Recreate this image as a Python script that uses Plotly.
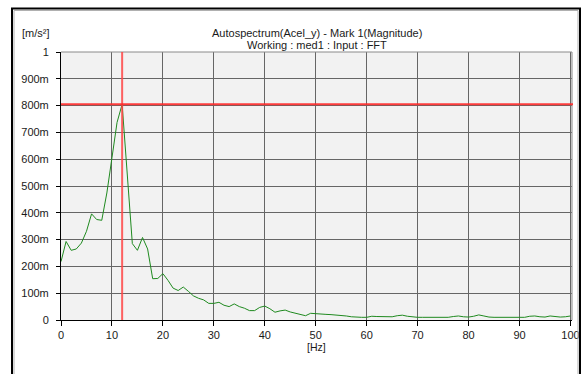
import plotly.graph_objects as go

freq_hz = list(range(0, 101))
magnitude = [
    0.218, 0.293, 0.260, 0.265, 0.287, 0.331, 0.396, 0.375, 0.372, 0.474,
    0.605, 0.737, 0.805, 0.545, 0.285, 0.260, 0.308, 0.265, 0.154, 0.155,
    0.173, 0.148, 0.119, 0.110, 0.123, 0.107, 0.090, 0.081, 0.075, 0.062,
    0.062, 0.066, 0.055, 0.050, 0.060, 0.050, 0.044, 0.035, 0.035, 0.047,
    0.052, 0.042, 0.029, 0.034, 0.037, 0.030, 0.025, 0.022, 0.016, 0.025,
    0.023, 0.021, 0.021, 0.020, 0.019, 0.017, 0.015, 0.012, 0.010, 0.010,
    0.010, 0.014, 0.013, 0.012, 0.011, 0.012, 0.016, 0.018, 0.014, 0.011,
    0.010, 0.010, 0.010, 0.010, 0.010, 0.010, 0.010, 0.013, 0.015, 0.012,
    0.011, 0.014, 0.019, 0.015, 0.011, 0.010, 0.010, 0.010, 0.010, 0.010,
    0.010, 0.010, 0.014, 0.015, 0.012, 0.011, 0.015, 0.013, 0.011, 0.012,
    0.015,
]
cursor_x = 12
cursor_y = 0.805

x_ticks = list(range(0, 101, 10))
y_ticks = [0, 0.1, 0.2, 0.3, 0.4, 0.5, 0.6, 0.7, 0.8, 0.9, 1.0]
y_tick_labels = ["0", "100m", "200m", "300m", "400m", "500m", "600m", "700m", "800m", "900m", "1"]

title_line1 = "Autospectrum(Acel_y) - Mark 1(Magnitude)"
title_line2 = "Working : med1 : Input : FFT"
y_unit = "[m/s²]"
x_unit = "[Hz]"

FONT = "Liberation Sans, Arial, sans-serif"

fig = go.Figure()
fig.add_trace(go.Scatter(
    x=freq_hz, y=magnitude, mode="lines",
    line=dict(color="#1f8a1f", width=1),
    hoverinfo="skip", showlegend=False,
))

fig.update_layout(
    template="none",
    width=582, height=374,
    margin=dict(l=61, r=10, t=52, b=54, autoexpand=False),
    paper_bgcolor="white",
    plot_bgcolor="#f2f2f2",
    font=dict(family=FONT, size=11, color="#1a1a1a"),
    showlegend=False,
)

fig.update_xaxes(
    range=[0, 100.3], tickvals=x_ticks, ticktext=[str(v) for v in x_ticks],
    showgrid=True, gridcolor="#666666", gridwidth=1,
    showline=True, linecolor="black", linewidth=1,
    ticks="outside", ticklen=5, tickcolor="black",
    zeroline=False, tickfont=dict(size=11), automargin=False,
)
fig.update_yaxes(
    range=[0, 1.0], tickvals=y_ticks, ticktext=y_tick_labels,
    showgrid=True, gridcolor="#666666", gridwidth=1,
    showline=True, linecolor="black", linewidth=1,
    ticks="outside", ticklen=4, tickcolor="black",
    zeroline=False, tickfont=dict(size=11), ticklabelstandoff=5,
    automargin=False,
)

shapes = [
    # plot area top and right edges
    dict(type="line", xref="paper", yref="paper", x0=0, x1=1, y0=1, y1=1,
         line=dict(color="#8a8a8a", width=1)),
    dict(type="line", xref="paper", yref="paper", x0=1, x1=1, y0=0, y1=1,
         line=dict(color="#8a8a8a", width=1)),
    # cursors
    dict(type="line", xref="x", yref="paper", x0=cursor_x, x1=cursor_x, y0=0, y1=1,
         line=dict(color="rgba(255,70,70,0.85)", width=2)),
    dict(type="line", xref="paper", yref="y", x0=0, x1=1.002, y0=cursor_y, y1=cursor_y,
         line=dict(color="rgba(255,40,40,0.9)", width=2)),
    # outer frame
    dict(type="rect", xref="paper", yref="paper",
         x0=(12 - 61) / 511, x1=(580 - 61) / 511,
         y0=(320 - 380) / 268, y1=(320 - 8.5) / 268,
         line=dict(color="black", width=2), layer="above"),
    dict(type="rect", xref="paper", yref="paper",
         x0=(14 - 61) / 511, x1=(578 - 61) / 511,
         y0=(320 - 380) / 268, y1=(320 - 10.5) / 268,
         line=dict(color="#b0b0b0", width=1), layer="above"),
]
fig.update_layout(shapes=shapes)

annotations = [
    dict(text=y_unit, xref="paper", yref="paper", x=(20 - 61) / 511, y=(320 - 33) / 268,
         xanchor="left", yanchor="middle", showarrow=False, font=dict(size=11)),
    dict(text=title_line1, xref="paper", yref="paper", x=0.5, y=(320 - 33) / 268,
         xanchor="center", yanchor="middle", showarrow=False, font=dict(size=11)),
    dict(text=title_line2, xref="paper", yref="paper", x=0.5, y=(320 - 45) / 268,
         xanchor="center", yanchor="middle", showarrow=False, font=dict(size=11)),
    dict(text=x_unit, xref="paper", yref="paper", x=0.5, y=(320 - 347) / 268,
         xanchor="center", yanchor="middle", showarrow=False, font=dict(size=10.5)),
]
fig.update_layout(annotations=annotations)

fig.write_html("out.html")
